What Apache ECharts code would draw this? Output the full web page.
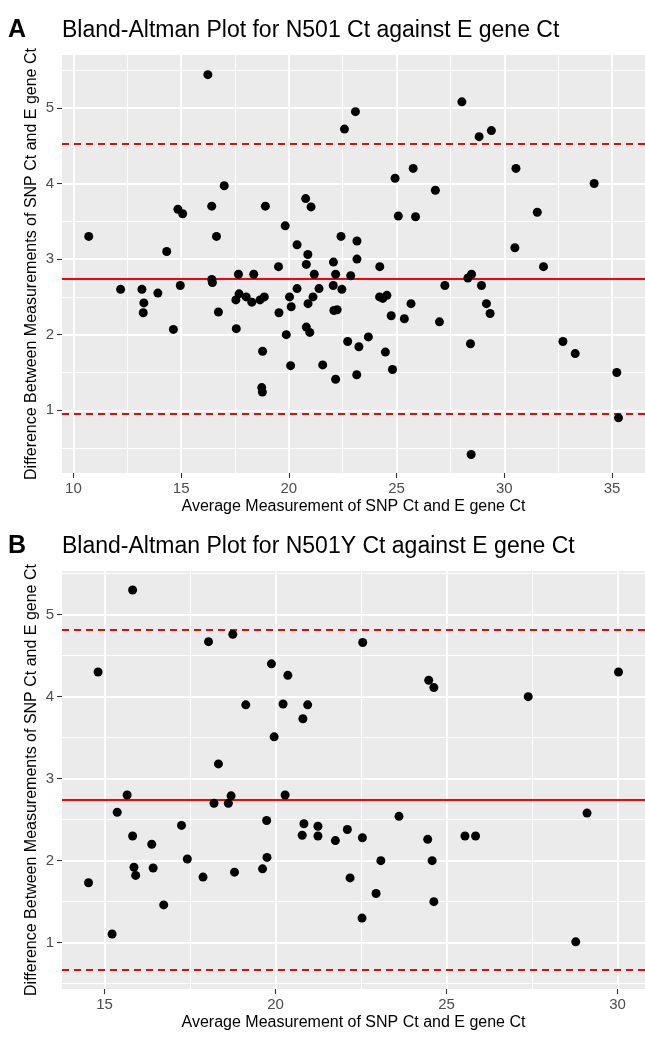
<!DOCTYPE html>
<html>
	<head>
		<meta charset="utf-8">
		<title>Bland-Altman</title>
		<script src="https://cdn.jsdelivr.net/npm/echarts@6/dist/echarts.min.js"></script>
		<style type="text/css">
			body {
				margin: 0;
				background: #fff;
			}

			#main {
				width: 645px;
				height: 1037px;
			}
		</style>
	</head>

	<body>
		<div id="main"></div>

		<script>
			// A: N501 vs E gene  (x = average Ct, y = difference)
			var avgA = [10.71, 16.24, 17.00, 14.85, 15.07, 16.42, 16.64, 14.33, 18.91, 19.83, 20.78, 21.03, 20.38, 20.88, 20.81, 19.52,
				28.03, 23.09, 22.58, 28.83, 29.40, 25.77, 24.93, 30.54, 34.17, 26.80, 25.08, 25.88, 31.53, 22.42, 23.16, 30.49,
				22.07, 23.16, 24.22, 31.82, 12.19, 13.18, 13.27, 13.24, 13.92, 14.96, 14.64, 16.42, 16.45, 16.73, 17.66, 17.69,
				17.54, 18.02, 18.37, 18.28, 18.66, 18.86, 17.56, 18.78, 18.74, 18.77, 19.54, 19.88, 20.08, 20.03, 20.11, 20.38,
				21.18, 21.40, 21.12, 20.89, 20.81, 20.97, 21.57, 22.17, 22.87, 22.06, 22.46, 22.09, 22.24, 24.21, 24.36, 24.55,
				25.67, 24.75, 25.36, 26.99, 27.24, 28.31, 28.48, 28.94, 29.17, 29.34, 28.43, 32.72, 33.29, 35.22, 35.30, 28.46,
				22.73, 23.69, 23.25, 24.48, 24.81, 22.17, 23.15];
			var diffA = [3.30, 5.44, 3.97, 3.66, 3.60, 3.70, 3.30, 3.10, 3.70, 3.44, 3.80, 3.69, 3.19, 3.06, 2.93, 2.90,
				5.08, 4.95, 4.72, 4.62, 4.70, 4.20, 4.07, 4.20, 4.00, 3.91, 3.57, 3.56, 3.62, 3.30, 3.24, 3.15,
				2.96, 3.00, 2.90, 2.90, 2.60, 2.60, 2.42, 2.29, 2.55, 2.65, 2.07, 2.73, 2.69, 2.30, 2.80, 2.54,
				2.46, 2.50, 2.80, 2.43, 2.46, 2.50, 2.08, 1.78, 1.30, 1.24, 2.29, 2.00, 1.59, 2.50, 2.37, 2.61,
				2.80, 2.61, 2.50, 2.41, 2.10, 2.03, 1.60, 2.80, 2.78, 2.65, 2.60, 2.32, 2.33, 2.50, 2.48, 2.52,
				2.41, 2.25, 2.21, 2.17, 2.65, 2.75, 2.80, 2.65, 2.41, 2.28, 1.88, 1.91, 1.75, 1.50, 0.90, 0.415,
				1.91, 1.97, 1.84, 1.77, 1.54, 1.41, 1.47];
			var meanA = 2.74;
			var loaA = [4.52, 0.96];

			// B: N501Y vs E gene
			var avgB = [15.82, 14.81, 18.04, 18.75, 19.88, 20.36, 19.13, 20.22, 20.94, 20.80, 19.96, 22.55, 24.48, 24.63, 27.39, 30.03,
				14.53, 15.22, 15.37, 15.66, 15.82, 15.86, 15.91, 16.38, 16.42, 16.73, 17.25, 17.42, 17.88, 18.33, 18.20, 18.62,
				18.70, 18.80, 19.74, 19.75, 19.62, 20.28, 20.78, 20.83, 21.24, 21.24, 21.75, 22.10, 22.54, 22.18, 23.08, 22.94,
				22.53, 23.61, 24.45, 24.58, 24.63, 25.54, 25.85, 29.11, 28.78];
			var diffB = [5.30, 4.30, 4.67, 4.76, 4.40, 4.26, 3.90, 3.91, 3.90, 3.73, 3.51, 4.66, 4.20, 4.11, 4.00, 4.30,
				1.73, 1.105, 2.59, 2.80, 2.30, 1.92, 1.82, 2.20, 1.91, 1.46, 2.43, 2.02, 1.80, 3.18, 2.70, 2.70,
				2.79, 1.86, 2.49, 2.04, 1.90, 2.80, 2.31, 2.45, 2.42, 2.30, 2.245, 2.38, 2.28, 1.79, 2.00, 1.60,
				1.30, 2.54, 2.26, 2.00, 1.50, 2.30, 2.30, 2.58, 1.01];
			var meanB = 2.74;
			var loaB = [4.81, 0.67];

			// ticks
			var xTicksA = [10, 15, 20, 25, 30, 35];
			var xMinorA = [12.5, 17.5, 22.5, 27.5, 32.5];
			var xTicksB = [15, 20, 25, 30];
			var xMinorB = [17.5, 22.5, 27.5];
			var yTicks = [1, 2, 3, 4, 5];
			var yMinor = [0.5, 1.5, 2.5, 3.5, 4.5, 5.5];

			var titleA = 'Bland-Altman Plot for N501 Ct against E gene Ct';
			var titleB = 'Bland-Altman Plot for N501Y Ct against E gene Ct';
			var xName = 'Average Measurement of SNP Ct and E gene Ct';
			var yName = 'Difference Between Measurements of SNP Ct and E gene Ct';

			var font = '"Liberation Sans", Arial, sans-serif';

			function pairs(xs, ys) {
				var out = [];
				for (var i = 0; i < xs.length; i++) {
					out.push([xs[i], ys[i]]);
				}
				return out;
			}

			// white ggplot style grid lines, drawn as mark lines
			function gridLines(xMaj, xMin, yMaj, yMin) {
				var d = [];
				xMin.forEach(function(v) {
					d.push({ xAxis: v, lineStyle: { width: 0.9 } });
				});
				yMin.forEach(function(v) {
					d.push({ yAxis: v, lineStyle: { width: 0.9 } });
				});
				xMaj.forEach(function(v) {
					d.push({ xAxis: v, lineStyle: { width: 1.8 } });
				});
				yMaj.forEach(function(v) {
					d.push({ yAxis: v, lineStyle: { width: 1.8 } });
				});
				return d;
			}

			function xAxisOpt(idx, min, max, ticks) {
				return {
					type: 'value',
					gridIndex: idx,
					min: min,
					max: max,
					name: xName,
					nameLocation: 'middle',
					nameGap: 26,
					nameMoveOverlap: false,
					nameTextStyle: { fontSize: 16, color: '#000', fontFamily: font },
					axisLine: { show: false },
					splitLine: { show: false },
					axisTick: { show: true, length: 5, customValues: ticks, lineStyle: { color: '#333', width: 1.1 } },
					axisLabel: { customValues: ticks, margin: 8, fontSize: 15, color: '#4D4D4D', fontFamily: font }
				};
			}

			function yAxisOpt(idx, min, max) {
				return {
					type: 'value',
					gridIndex: idx,
					min: min,
					max: max,
					name: yName,
					nameLocation: 'middle',
					nameRotate: 90,
					nameGap: 22,
					nameMoveOverlap: false,
					nameTextStyle: { fontSize: 16, color: '#000', fontFamily: font },
					axisLine: { show: false },
					splitLine: { show: false },
					axisTick: { show: true, length: 5, customValues: yTicks, lineStyle: { color: '#333', width: 1.1 } },
					axisLabel: { customValues: yTicks, margin: 8, fontSize: 15, color: '#4D4D4D', fontFamily: font }
				};
			}

			function refLines(mean, loa) {
				return {
					silent: true,
					symbol: ['none', 'none'],
					label: { show: false },
					z: 2,
					animation: false,
					data: [
						{ yAxis: mean, lineStyle: { type: 'solid' } },
						{ yAxis: loa[0], lineStyle: { type: [7, 5] } },
						{ yAxis: loa[1], lineStyle: { type: [7, 5] } }
					],
					lineStyle: { color: '#FF0000', width: 1.8 }
				};
			}

			function gridSeries(idx, xMaj, xMin) {
				return {
					type: 'scatter',
					xAxisIndex: idx,
					yAxisIndex: idx,
					data: [],
					silent: true,
					markLine: {
						silent: true,
						symbol: ['none', 'none'],
						label: { show: false },
						z: 1,
						animation: false,
						lineStyle: { color: '#FFFFFF', type: 'solid' },
						data: gridLines(xMaj, xMin, yTicks, yMinor)
					}
				};
			}

			function pointSeries(idx, xs, ys, mean, loa) {
				return {
					type: 'scatter',
					xAxisIndex: idx,
					yAxisIndex: idx,
					symbolSize: 9,
					z: 3,
					animation: false,
					itemStyle: { color: '#000', opacity: 1 },
					data: pairs(xs, ys),
					markLine: refLines(mean, loa)
				};
			}

			var chart = echarts.init(document.getElementById('main'), null, { renderer: 'canvas' });

			chart.setOption({
				backgroundColor: '#FFFFFF',
				animation: false,
				textStyle: { fontFamily: font },
				title: [{
						text: 'A', left: 8, top: 18, padding: 0,
						textStyle: { fontSize: 25, fontWeight: 'bold', color: '#000', fontFamily: font }
					},
					{
						text: titleA, left: 62, top: 19, padding: 0,
						textStyle: { fontSize: 23, fontWeight: 'normal', color: '#000', fontFamily: font }
					},
					{
						text: 'B', left: 8, top: 534, padding: 0,
						textStyle: { fontSize: 25, fontWeight: 'bold', color: '#000', fontFamily: font }
					},
					{
						text: titleB, left: 62, top: 535, padding: 0,
						textStyle: { fontSize: 23, fontWeight: 'normal', color: '#000', fontFamily: font }
					}
				],
				grid: [{
						left: 62, top: 55, width: 586, height: 418,
						show: true, backgroundColor: '#EBEBEB', borderWidth: 0
					},
					{
						left: 62, top: 571, width: 586, height: 418,
						show: true, backgroundColor: '#EBEBEB', borderWidth: 0
					}
				],
				xAxis: [
					xAxisOpt(0, 9.47, 36.53, xTicksA),
					xAxisOpt(1, 13.755, 30.805, xTicksB)
				],
				yAxis: [
					yAxisOpt(0, 0.17, 5.70),
					yAxisOpt(1, 0.435, 5.532)
				],
				series: [
					gridSeries(0, xTicksA, xMinorA),
					gridSeries(1, xTicksB, xMinorB),
					pointSeries(0, avgA, diffA, meanA, loaA),
					pointSeries(1, avgB, diffB, meanB, loaB)
				]
			});
		</script>
	</body>
</html>
